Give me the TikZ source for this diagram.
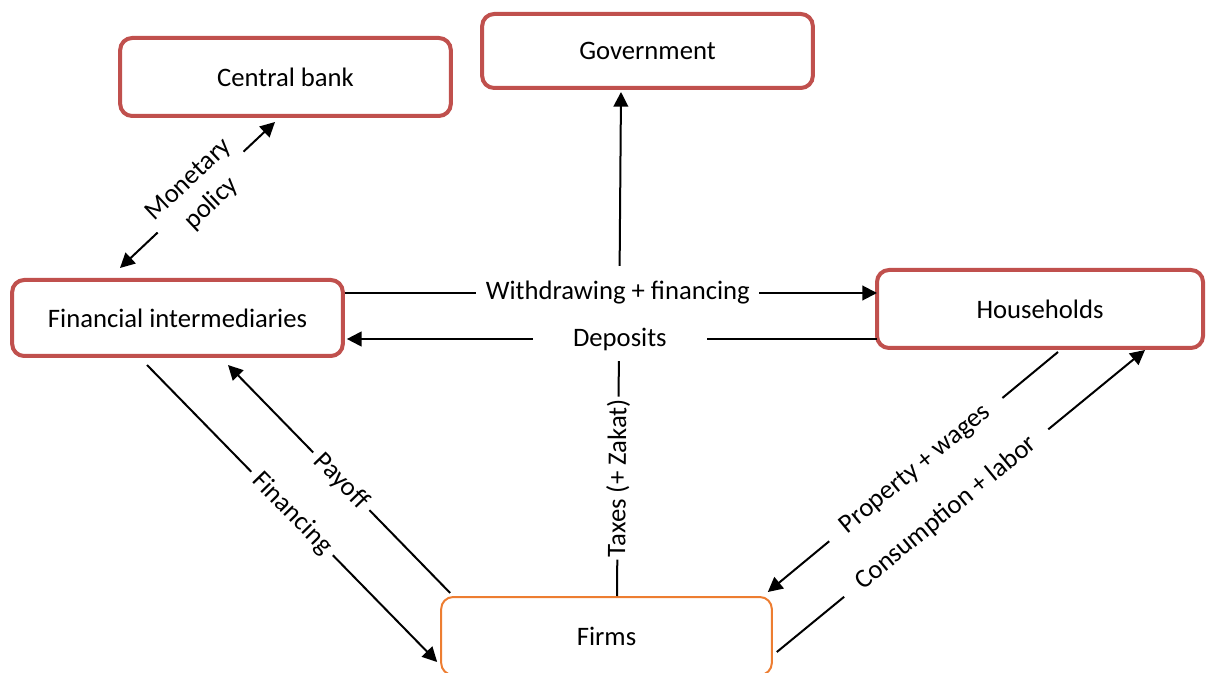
\documentclass[tikz,border=0pt]{standalone}
\usepackage{fontspec}
\setmainfont{Carlito}
\usepackage{tikz}
\definecolor{sectorred}{RGB}{192,80,77}
\definecolor{firmorange}{RGB}{237,125,49}
\usetikzlibrary{arrows.meta}
\usetikzlibrary{calc}
\tikzset{
  sector/.style = {align=center, draw=sectorred, line width=3pt,
    rounded corners=9pt, minimum width=248pt, minimum height=57pt,
    font=\fontsize{20}{24.5}\selectfont},% sector box, red frame
  sector_f/.style = {sector, draw=firmorange, line width=1.5pt},% firms, orange frame
  flow/.style = {-{Triangle[length=11pt,width=11pt]}, line width=1.5pt},% one way flow
  flow_two/.style = {flow, {Triangle[length=11pt,width=11pt]}-{Triangle[length=11pt,width=11pt]}},% both ways
  lbl/.style = {fill=white, sloped, align=center, inner xsep=5pt, inner ysep=1pt,
    font=\fontsize{20}{24.5}\selectfont},% label cutting the flow line
}
\begin{document}
\begin{tikzpicture}[x=0.75pt,y=-0.75pt]
  \useasboundingbox (0,0) rectangle (1206,673);

  \node[sector, minimum height=58.5pt] (cb) at (285.5,77) {Central bank};
  \node[sector, minimum height=55.5pt] (gov) at (647.5,51) {Government};
  \node[sector] (fi) at (177.5,318) {Financial intermediaries};
  \node[sector, minimum width=244.5pt, minimum height=58.5pt] (hh) at (1040,309) {Households};
  \node[sector_f, minimum height=58.5pt] (firms) at (606.5,636) {Firms};

  %   state
  \path[flow] ($(firms.north)+(10.5,0)$) edge node[lbl, pos=.234, inner xsep=2pt] {Taxes (+ Zakat)} ($(gov.south)+(-26.5,2)$);
  \path[flow_two] ($(fi.north)+(-57.5,-10)$) edge node[lbl, pos=.52, inner xsep=4pt] {Monetary\\policy} ($(cb.south)+(-10.5,4)$);
  %   banks and households
  \path[flow] ($(fi.east)+(0,-25)$) edge node[lbl, pos=.513, inner xsep=7pt, inner ysep=11.5pt] {Withdrawing + financing} ($(hh.west)+(2,-16)$);
  \path[flow] ($(hh.west)+(2,30)$) edge node[lbl, pos=.485, inner xsep=30pt, inner ysep=8pt] {Deposits} ($(fi.east)+(2,21)$);
  %   banks and firms
  \path[flow] ($(fi.south)+(-30.5,7)$) edge node[lbl, pos=.5] {Financing} ($(firms.west)+(-3,26)$);
  \path[flow] ($(firms.north west)+(10,-3)$) edge node[lbl, pos=.49] {Payoff} ($(fi.south)+(50.5,7)$);
  %   households and firms
  \path[flow] ($(hh.south)+(18,2)$) edge node[lbl, pos=.49, inner xsep=14pt] {Property + wages} ($(firms.north east)+(-5,-4)$);
  \path[flow] ($(firms.east)+(4,16)$) edge node[lbl, pos=.46, inner xsep=14pt] {Consumption + labor} ($(hh.south)+(105,0)$);
\end{tikzpicture}
\end{document}
